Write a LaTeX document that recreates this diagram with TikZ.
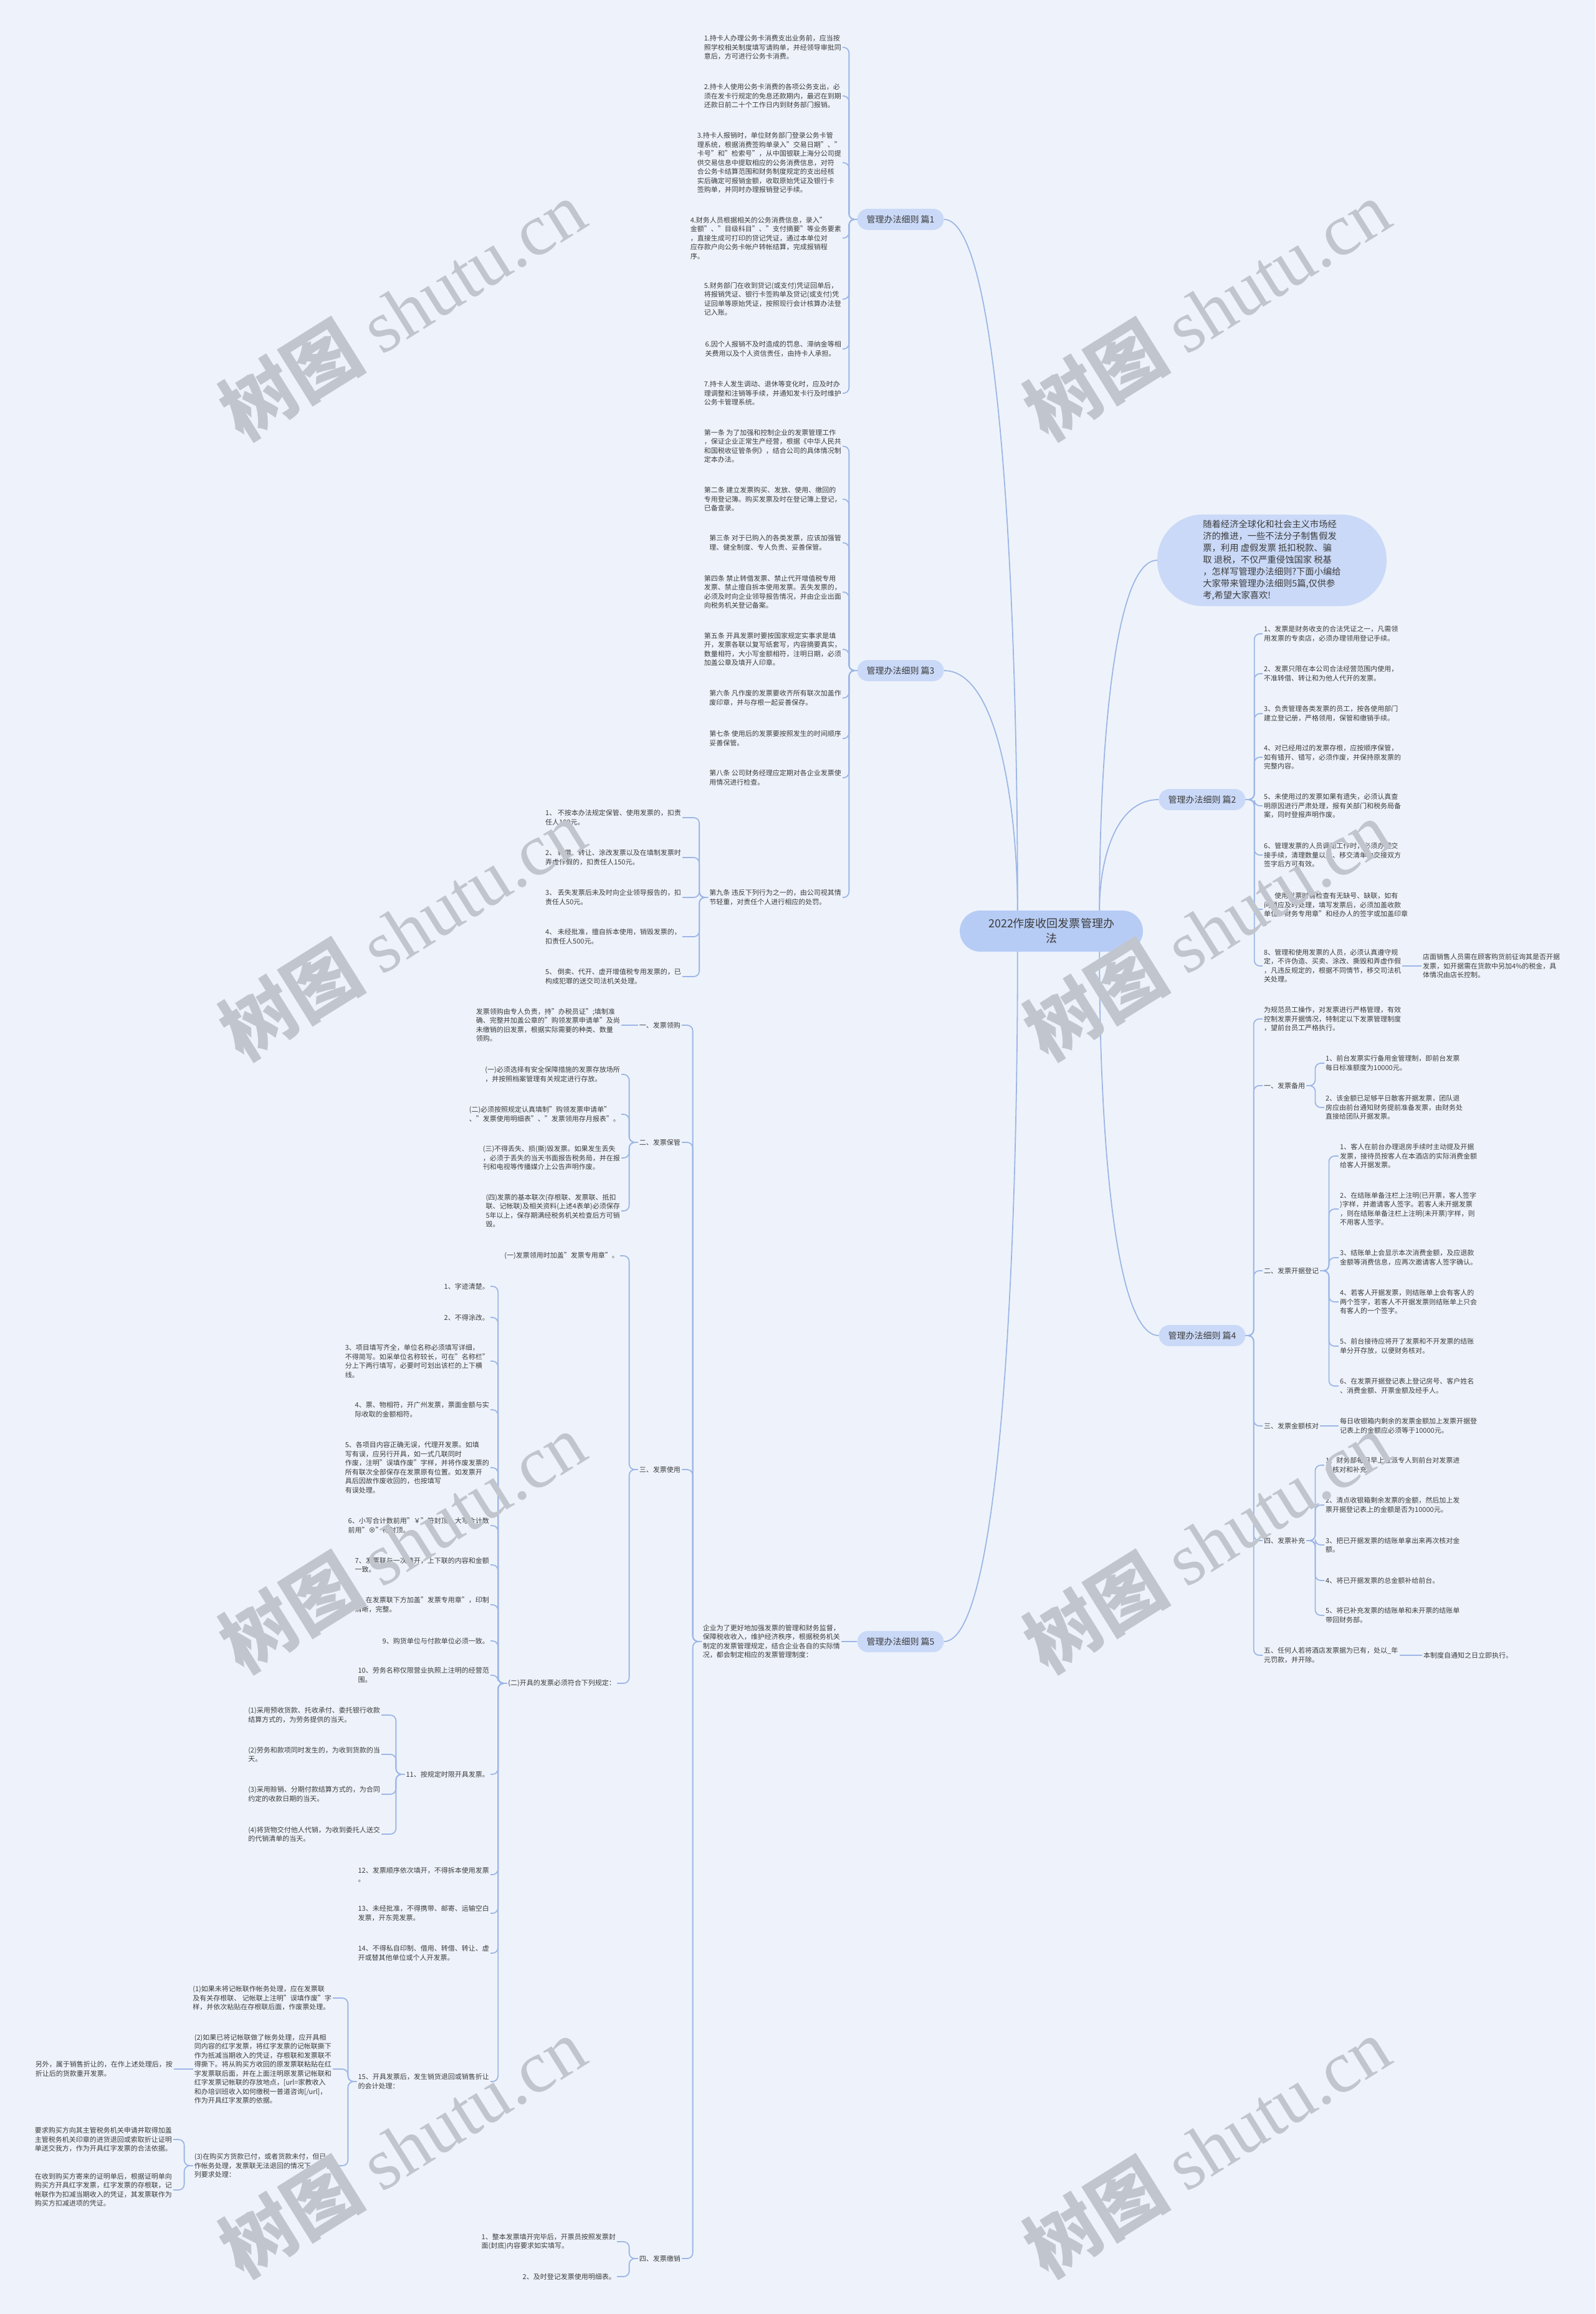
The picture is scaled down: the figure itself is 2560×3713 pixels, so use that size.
\documentclass[tikz,border=0pt]{standalone}
\usepackage{fontspec}
\setmainfont{Noto Sans CJK SC}
\newfontfamily\wmserif{Liberation Serif}
\usetikzlibrary{positioning}
\definecolor{bgpaper}{HTML}{EEF3FB}
\definecolor{pillblue}{HTML}{CAD9F7}
\definecolor{rootblue}{HTML}{B7CCF5}
\definecolor{linkblue}{HTML}{9DB6E6}
\definecolor{inkgray}{HTML}{3C3C3C}
\definecolor{wmgray}{HTML}{C1C6CE}

\begin{document}
\begin{tikzpicture}[
  x=1pt, y=-1pt,
  leaf/.style={font=\fontsize{11}{14.5}\selectfont, text=inkgray, align=left, inner sep=2pt},
  leafL/.style={leaf, anchor=east},
  leafR/.style={leaf, anchor=west},
  branch/.style={fill=pillblue, rounded corners=17pt, minimum height=34pt,
    inner xsep=15pt, font=\fontsize{14}{16}\selectfont, text=inkgray},
  edge/.style={draw=linkblue, line width=1.8pt, rounded corners=9pt},
  wmark/.style={rotate=32, text=wmgray, font=\fontsize{118}{118}\selectfont},
]

% Background
\fill[bgpaper] (0,0) rectangle (2560,3713);
\useasboundingbox (0,0) rectangle (2560,3713);

% Root and branches
\node[fill=rootblue, rounded corners=33pt, minimum width=294pt, minimum height=66pt,
  align=center, font=\fontsize{18}{24}\selectfont, text=inkgray] (root) at (1687,1494)
  {2022作废收回发票管理办\\法};

\node[fill=pillblue, rounded corners=73pt, minimum width=368pt, minimum height=147pt,
  align=left, font=\fontsize{14.3}{19}\selectfont, text=inkgray] (hint) at (2041,899)
  {随着经济全球化和社会主义市场经\\济的推进，一些不法分子制售假发\\票，利用 虚假发票 抵扣税款、骗\\取 退税，不仅严重侵蚀国家 税基\\，怎样写管理办法细则?下面小编给\\大家带来管理办法细则5篇,仅供参\\考,希望大家喜欢!};

\node[branch] (b1) at (1445,352) {管理办法细则 篇1};
\node[branch] (b3) at (1445,1076) {管理办法细则 篇3};
\node[branch] (b5) at (1445,2634) {管理办法细则 篇5};
\node[branch] (b2) at (1929,1283) {管理办法细则 篇2};
\node[branch] (b4) at (1929,2143) {管理办法细则 篇4};

\coordinate (rootL) at ([xshift=93pt]root.north west);
\coordinate (rootLB) at ([xshift=93pt]root.south west);
\coordinate (rootR) at ([xshift=-70pt]root.north east);
\coordinate (rootRB) at ([xshift=-70pt]root.south east);

\draw[edge] (rootL) .. controls +(0,-500) and +(90,0) .. (b1.east);
\draw[edge] (rootL) .. controls +(0,-150) and +(90,0) .. (b3.east);
\draw[edge] (rootLB) .. controls +(0,500) and +(90,0) .. (b5.east);
\draw[edge] (rootR) .. controls +(0,-250) and +(-70,0) .. (hint.west);
\draw[edge] (rootR) .. controls +(0,-80) and +(-70,0) .. (b2.west);
\draw[edge] (rootRB) .. controls +(0,300) and +(-70,0) .. (b4.west);

% Part 1
\node[leafL] (p1a) at (1352,76) {1.持卡人办理公务卡消费支出业务前，应当按\\照学校相关制度填写请购单，并经领导审批同\\意后，方可进行公务卡消费。};
\node[leafL] (p1b) at (1352,154) {2.持卡人使用公务卡消费的各项公务支出，必\\须在发卡行规定的免息还款期内，最迟在到期\\还款日前二十个工作日内到财务部门报销。};
\node[leafL] (p1c) at (1352,261) {3.持卡人报销时，单位财务部门登录公务卡管\\理系统，根据消费签购单录入"交易日期"、"\\卡号"和"检索号"，从中国银联上海分公司提\\供交易信息中提取相应的公务消费信息，对符\\合公务卡结算范围和财务制度规定的支出经核\\实后确定可报销金额，收取原始凭证及银行卡\\签购单，并同时办理报销登记手续。};
\node[leafL] (p1d) at (1352,382) {4.财务人员根据相关的公务消费信息，录入"\\金额"、"目级科目"、"支付摘要"等业务要素\\，直接生成可打印的贷记凭证，通过本单位对\\应存款户向公务卡帐户转帐结算，完成报销程\\序。};
\node[leafL] (p1e) at (1352,480) {5.财务部门在收到贷记(或支付)凭证回单后，\\将报销凭证、银行卡签购单及贷记(或支付)凭\\证回单等原始凭证，按照现行会计核算办法登\\记入账。};
\node[leafL] (p1f) at (1352,560) {6.因个人报销不及时造成的罚息、滞纳金等相\\关费用以及个人资信责任，由持卡人承担。};
\node[leafL] (p1g) at (1352,631) {7.持卡人发生调动、退休等变化时，应及时办\\理调整和注销等手续，并通知发卡行及时维护\\公务卡管理系统。};
\foreach \c in {p1a,p1b,p1c,p1d,p1e,p1f,p1g}
  \draw[edge] (b1.west) -- ++(-13,0) |- (\c.east);

% Part 3
\node[leafL] (p3a) at (1352,716) {第一条 为了加强和控制企业的发票管理工作\\，保证企业正常生产经营，根据《中华人民共\\和国税收征管条例》，结合公司的具体情况制\\定本办法。};
\node[leafL] (p3b) at (1352,801) {第二条 建立发票购买、发放、使用、缴回的\\专用登记簿。购买发票及时在登记簿上登记，\\已备查录。};
\node[leafL] (p3c) at (1352,871) {第三条 对于已购入的各类发票，应该加强管\\理、健全制度、专人负责、妥善保管。};
\node[leafL] (p3d) at (1352,950) {第四条 禁止转借发票、禁止代开增值税专用\\发票、禁止擅自拆本使用发票。丢失发票的，\\必须及时向企业领导报告情况，并由企业出面\\向税务机关登记备案。};
\node[leafL] (p3e) at (1352,1042) {第五条 开具发票时要按国家规定实事求是填\\开，发票各联以复写纸套写，内容摘要真实，\\数量相符，大小写金额相符，注明日期，必须\\加盖公章及填开人印章。};
\node[leafL] (p3f) at (1352,1120) {第六条 凡作废的发票要收齐所有联次加盖作\\废印章，并与存根一起妥善保存。};
\node[leafL] (p3g) at (1352,1185) {第七条 使用后的发票要按照发生的时间顺序\\妥善保管。};
\node[leafL] (p3h) at (1352,1248) {第八条 公司财务经理应定期对各企业发票使\\用情况进行检查。};
\node[leafL] (p3i) at (1352,1440) {第九条 违反下列行为之一的，由公司视其情\\节轻重，对责任个人进行相应的处罚。};
\foreach \c in {p3a,p3b,p3c,p3d,p3e,p3f,p3g,p3h,p3i}
  \draw[edge] (b3.west) -- ++(-13,0) |- (\c.east);

\node[leafL] (p3i1) at (1095,1312) {1、 不按本办法规定保管、使用发票的，扣责\\任人100元。};
\node[leafL] (p3i2) at (1095,1376) {2、 转借、转让、涂改发票以及在填制发票时\\弄虚作假的，扣责任人150元。};
\node[leafL] (p3i3) at (1095,1440) {3、 丢失发票后未及时向企业领导报告的，扣\\责任人50元。};
\node[leafL] (p3i4) at (1095,1503) {4、 未经批准，擅自拆本使用，销毁发票的，\\扣责任人500元。};
\node[leafL] (p3i5) at (1095,1567) {5、 倒卖、代开、虚开增值税专用发票的，已\\构成犯罪的送交司法机关处理。};
\foreach \c in {p3i1,p3i2,p3i3,p3i4,p3i5}
  \draw[edge] (p3i.west) -- ++(-14,0) |- (\c.east);

% Part 2
\node[leafR] (p2a) at (2026,1017) {1、发票是财务收支的合法凭证之一，凡需领\\用发票的专卖店，必须办理领用登记手续。};
\node[leafR] (p2b) at (2026,1081) {2、发票只限在本公司合法经营范围内使用，\\不准转借、转让和为他人代开的发票。};
\node[leafR] (p2c) at (2026,1145) {3、负责管理各类发票的员工，按各使用部门\\建立登记册，严格领用，保管和缴销手续。};
\node[leafR] (p2d) at (2026,1215) {4、对已经用过的发票存根，应按顺序保管，\\如有错开、错写，必须作废，并保持原发票的\\完整内容。};
\node[leafR] (p2e) at (2026,1293) {5、未使用过的发票如果有遗失，必须认真查\\明原因进行严肃处理，报有关部门和税务局备\\案，同时登报声明作废。};
\node[leafR] (p2f) at (2026,1372) {6、管理发票的人员调动工作时，必须办理交\\接手续，清理数量以后、移交清单由交接双方\\签字后方可有效。};
\node[leafR] (p2g) at (2026,1459) {7、使用发票时需检查有无缺号、缺联，如有\\问题应及时处理，填写发票后，必须加盖收款\\单位"财务专用章"和经办人的签字或加盖印章\\。};
\node[leafR] (p2h) at (2026,1550) {8、管理和使用发票的人员，必须认真遵守规\\定，不许伪造、买卖、涂改、撕毁和弄虚作假\\，凡违反规定的，根据不同情节，移交司法机\\关处理。};
\node[leafR] (p2h1) at (2281,1550) {店面销售人员需在顾客购货前征询其是否开据\\发票，如开据需在货款中另加4\%的税金，具\\体情况由店长控制。};
\foreach \c in {p2a,p2b,p2c,p2d,p2e,p2f,p2g,p2h}
  \draw[edge] (b2.east) -- ++(14,0) |- (\c.west);
\draw[edge] (p2h.east) -- (p2h1.west);

% Part 4
\node[leafR] (p4) at (2026,1635) {为规范员工操作，对发票进行严格管理，有效\\控制发票开据情况，特制定以下发票管理制度\\，望前台员工严格执行。};
\node[leafR] (p4a) at (2026,1742) {一、发票备用};
\node[leafR] (p4b) at (2026,2039) {二、发票开据登记};
\node[leafR] (p4c) at (2026,2288) {三、发票金额核对};
\node[leafR] (p4d) at (2026,2472) {四、发票补充};
\node[leafR] (p4e) at (2026,2656) {五、任何人若将酒店发票据为已有，处以\_年\\元罚款，并开除。};
\foreach \c in {p4,p4a,p4b,p4c,p4d,p4e}
  \draw[edge] (b4.east) -- ++(13,0) |- (\c.west);

\node[leafR] (p4a1) at (2125,1706) {1、前台发票实行备用金管理制，即前台发票\\每日标准额度为10000元。};
\node[leafR] (p4a2) at (2125,1777) {2、该金额已足够平日散客开据发票，团队退\\房应由前台通知财务提前准备发票，由财务处\\直接给团队开据发票。};
\foreach \c in {p4a1,p4a2}
  \draw[edge] (p4a.east) -- ++(14,0) |- (\c.west);

\node[leafR] (p4b1) at (2148,1855) {1、客人在前台办理退房手续时主动提及开据\\发票，接待员按客人在本酒店的实际消费金额\\给客人开据发票。};
\node[leafR] (p4b2) at (2148,1940) {2、在结账单备注栏上注明(已开票，客人签字\\)字样，并邀请客人签字。若客人未开据发票\\，则在结账单备注栏上注明(未开票)字样，则\\不用客人签字。};
\node[leafR] (p4b3) at (2148,2018) {3、结账单上会显示本次消费金额，及应退款\\金额等消费信息，应再次邀请客人签字确认。};
\node[leafR] (p4b4) at (2148,2089) {4、若客人开据发票，则结账单上会有客人的\\两个签字，若客人不开据发票则结账单上只会\\有客人的一个签字。};
\node[leafR] (p4b5) at (2148,2160) {5、前台接待应将开了发票和不开发票的结账\\单分开存放，以便财务核对。};
\node[leafR] (p4b6) at (2148,2224) {6、在发票开据登记表上登记房号、客户姓名\\、消费金额、开票金额及经手人。};
\foreach \c in {p4b1,p4b2,p4b3,p4b4,p4b5,p4b6}
  \draw[edge] (p4b.east) -- ++(14,0) |- (\c.west);

\node[leafR] (p4c1) at (2148,2288) {每日收银箱内剩余的发票金额加上发票开据登\\记表上的金额应必须等于10000元。};
\draw[edge] (p4c.east) -- (p4c1.west);

\node[leafR] (p4d1) at (2125,2351) {1、财务部每日早上应派专人到前台对发票进\\行核对和补充。};
\node[leafR] (p4d2) at (2125,2415) {2、清点收银箱剩余发票的金额，然后加上发\\票开据登记表上的金额是否为10000元。};
\node[leafR] (p4d3) at (2125,2479) {3、把已开据发票的结账单拿出来再次核对金\\额。};
\node[leafR] (p4d4) at (2125,2536) {4、将已开据发票的总金额补给前台。};
\node[leafR] (p4d5) at (2125,2592) {5、将已补充发票的结账单和未开票的结账单\\带回财务部。};
\foreach \c in {p4d1,p4d2,p4d3,p4d4,p4d5}
  \draw[edge] (p4d.east) -- ++(14,0) |- (\c.west);

\node[leafR] (p4e1) at (2282,2656) {本制度自通知之日立即执行。};
\draw[edge] (p4e.east) -- (p4e1.west);

% Part 5
\node[leafL] (p5) at (1350,2634) {企业为了更好地加强发票的管理和财务监督，\\保障税收收入，维护经济秩序，根据税务机关\\制定的发票管理规定，结合企业各自的实际情\\况，都会制定相应的发票管理制度：};
\draw[edge] (b5.west) -- (p5.east);

\node[leafL] (p5a) at (1094,1645) {一、发票领购};
\node[leafL] (p5b) at (1094,1833) {二、发票保管};
\node[leafL] (p5c) at (1094,2358) {三、发票使用};
\node[leafL] (p5d) at (1094,3624) {四、发票缴销};
\foreach \c in {p5a,p5b,p5c,p5d}
  \draw[edge] (p5.west) -- ++(-14,0) |- (\c.east);

\node[leafL] (p5a1) at (997,1645) {发票领购由专人负责，持"办税员证";填制准\\确、完整并加盖公章的"购领发票申请单"及尚\\未缴销的旧发票，根据实际需要的种类、数量\\领购。};
\draw[edge] (p5a.west) -- (p5a1.east);

\node[leafL] (p5b1) at (997,1724) {(一)必须选择有安全保障措施的发票存放场所\\，并按照档案管理有关规定进行存放。};
\node[leafL] (p5b2) at (997,1788) {(二)必须按照规定认真填制"购领发票申请单"\\、"发票使用明细表"、"发票领用存月报表"。};
\node[leafL] (p5b3) at (997,1858) {(三)不得丢失、损(撕)毁发票。如果发生丢失\\，必须于丢失的当天书面报告税务局，并在报\\刊和电视等传播媒介上公告声明作废。};
\node[leafL] (p5b4) at (997,1943) {(四)发票的基本联次(存根联、发票联、抵扣\\联、记帐联)及相关资料(上述4表单)必须保存\\5年以上，保存期满经税务机关检查后方可销\\毁。};
\foreach \c in {p5b1,p5b2,p5b3,p5b4}
  \draw[edge] (p5b.west) -- ++(-14,0) |- (\c.east);

\node[leafL] (p5c1) at (995,2015) {(一)发票领用时加盖"发票专用章"。};
\node[leafL] (p5c2) at (990,2701) {(二)开具的发票必须符合下列规定：};
\foreach \c in {p5c1,p5c2}
  \draw[edge] (p5c.west) -- ++(-14,0) |- (\c.east);

\node[leafL] (r1) at (787,2064) {1、字迹清楚。};
\node[leafL] (r2) at (787,2114) {2、不得涂改。};
\node[leafL] (r3) at (787,2184) {3、项目填写齐全，单位名称必须填写详细，\\不得简写。如采单位名称较长，可在"名称栏"\\分上下两行填写，必要时可划出该栏的上下横\\线。};
\node[leafL] (r4) at (787,2262) {4、票、物相符，开广州发票，票面金额与实\\际收取的金额相符。};
\node[leafL] (r5) at (787,2355) {5、各项目内容正确无误，代理开发票。如填\\写有误，应另行开具，如一式几联同时\\作废，注明"误填作废"字样，并将作废发票的\\所有联次全部保存在发票原有位置。如发票开\\具后因故作废收回的，也按填写\\有误处理。};
\node[leafL] (r6) at (787,2448) {6、小写合计数前用"￥"符封顶，大写合计数\\前用"⊗"符封顶。};
\node[leafL] (r7) at (787,2511) {7、发票联与一次填开，上下联的内容和金额\\一致。};
\node[leafL] (r8) at (787,2575) {8、在发票联下方加盖"发票专用章"，印制\\清晰，完整。};
\node[leafL] (r9) at (787,2633) {9、购货单位与付款单位必须一致。};
\node[leafL] (r10) at (787,2688) {10、劳务名称仅限营业执照上注明的经营范\\围。};
\node[leafL] (r11) at (787,2847) {11、按规定时限开具发票。};
\node[leafL] (r12) at (787,3008) {12、发票顺序依次填开，不得拆本使用发票\\。};
\node[leafL] (r13) at (787,3070) {13、未经批准，不得携带、邮寄、运输空白\\发票，开东莞发票。};
\node[leafL] (r14) at (787,3134) {14、不得私自印制、借用、转借、转让、虚\\开或替其他单位或个人开发票。};
\node[leafL] (r15) at (787,3340) {15、开具发票后，发生销货退回或销售折让\\的会计处理：};
\foreach \c in {r1,r2,r3,r4,r5,r6,r7,r8,r9,r10,r11,r12,r13,r14,r15}
  \draw[edge] (p5c2.west) -- ++(-14,0) |- (\c.east);

\node[leafL] (r11a) at (612,2752) {(1)采用预收货款、托收承付、委托银行收款\\结算方式的，为劳务提供的当天。};
\node[leafL] (r11b) at (612,2815) {(2)劳务和款项同时发生的，为收到货款的当\\天。};
\node[leafL] (r11c) at (612,2879) {(3)采用赊销、分期付款结算方式的，为合同\\约定的收款日期的当天。};
\node[leafL] (r11d) at (612,2943) {(4)将货物交付他人代销，为收到委托人送交\\的代销清单的当天。};
\foreach \c in {r11a,r11b,r11c,r11d}
  \draw[edge] (r11.west) -- ++(-14,0) |- (\c.east);

\node[leafL] (r15a) at (534,3206) {(1)如果未将记帐联作帐务处理，应在发票联\\及有关存根联、 记帐联上注明"误填作废"字\\样，并依次粘贴在存根联后面，作废票处理。};
\node[leafL] (r15b) at (534,3320) {(2)如果已将记帐联做了帐务处理，应开具相\\同内容的红字发票，将红字发票的记帐联撕下\\作为抵减当期收入的凭证，存根联和发票联不\\得撕下。将从购买方收回的原发票联粘贴在红\\字发票联后面，并在上面注明原发票记帐联和\\红字发票记帐联的存放地点，[url=家教收入\\和办培训班收入如何缴税一普道咨询[/url]，\\作为开具红字发票的依据。};
\node[leafL] (r15c) at (534,3475) {(3)在购买方货款已付，或者货款未付，但已\\作帐务处理，发票联无法退回的情况下，按下\\列要求处理：};
\foreach \c in {r15a,r15b,r15c}
  \draw[edge] (r15.west) -- ++(-14,0) |- (\c.east);

\node[leafL] (r15b1) at (279,3320) {另外，属于销售折让的，在作上述处理后，按\\折让后的货款重开发票。};
\draw[edge] (r15b.west) -- (r15b1.east);

\node[leafL] (r15c1) at (278,3433) {要求购买方向其主管税务机关申请并取得加盖\\主管税务机关印章的进货退回或索取折让证明\\单送交我方，作为开具红字发票的合法依据。};
\node[leafL] (r15c2) at (278,3514) {在收到购买方寄来的证明单后，根据证明单向\\购买方开具红字发票，红字发票的存根联，记\\帐联作为扣减当期收入的凭证，其发票联作为\\购买方扣减进项的凭证。};
\foreach \c in {r15c1,r15c2}
  \draw[edge] (r15c.west) -- ++(-14,0) |- (\c.east);

\node[leafL] (p5d1) at (990,3597) {1、整本发票填开完毕后，开票员按照发票封\\面(封底)内容要求如实填写。};
\node[leafL] (p5d2) at (990,3653) {2、及时登记发票使用明细表。};
\foreach \c in {p5d1,p5d2}
  \draw[edge] (p5d.west) -- ++(-14,0) |- (\c.east);

% Watermarks
\foreach \wx/\wy [count=\wi] in {645/497, 1936/497, 645/1492, 1936/1492,
    645/2475, 1936/2475, 645/3445, 1936/3445}
  \node[wmark] (wm\wi) at (\wx,\wy) {\bfseries 树图 {\mdseries\wmserif shutu.cn}};

\end{tikzpicture}
\end{document}
